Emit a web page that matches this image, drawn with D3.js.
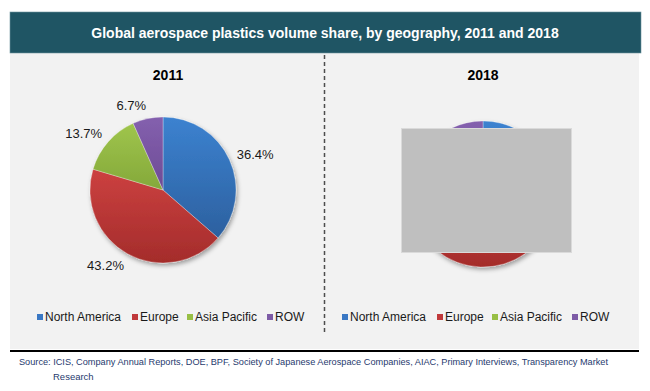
<!DOCTYPE html>
<html>
<head>
<meta charset="utf-8">
<script src="https://cdn.jsdelivr.net/npm/d3@7"></script>
<style>
  html, body { margin: 0; padding: 0; background: #ffffff; }
  svg { display: block; font-family: "Liberation Sans", Arial, sans-serif; }
</style>
</head>
<body>
<svg id="chart" width="650" height="391"></svg>
<script>
// ---- Data ----
const chartTitle = "Global aerospace plastics volume share, by geography, 2011 and 2018";
const regions = ["North America", "Europe", "Asia Pacific", "ROW"];
const years = ["2011", "2018"];
const share2011 = [36.4, 43.2, 13.7, 6.7];
const share2018 = [35.0, 41.5, 16.2, 7.3]; // hidden behind the grey box in the source; estimated
const showLabels = [true, false];
const sourceLine1 = "Source: ICIS, Company Annual Reports, DOE, BPF, Society of Japanese Aerospace Companies, AIAC, Primary Interviews, Transparency Market";
const sourceLine2 = "Research";

const colorsTop = ["#3c82d0", "#cc4140", "#9fc54c", "#8460ae"];
const colorsBot = ["#2c609f", "#a42c2b", "#84a83a", "#6d4b95"];
const legendColors = ["#3a78c4", "#c0393b", "#98bf45", "#7d5ba6"];

const svg = d3.select("#chart");
const defs = svg.append("defs");

regions.forEach((r, i) => {
  const g = defs.append("linearGradient").attr("id", "g" + i)
    .attr("x1", 0).attr("y1", 0).attr("x2", 0).attr("y2", 1)
    .attr("gradientUnits", "objectBoundingBox");
  g.append("stop").attr("offset", "0%").attr("stop-color", colorsTop[i]);
  g.append("stop").attr("offset", "100%").attr("stop-color", colorsBot[i]);
});
const f = defs.append("filter").attr("id", "shadow").attr("x", "-20%").attr("y", "-20%").attr("width", "140%").attr("height", "140%");
f.append("feDropShadow").attr("dx", 1.5).attr("dy", 2.5).attr("stdDeviation", 2).attr("flood-color", "#000").attr("flood-opacity", 0.35);

// ---- Frame ----
svg.append("rect").attr("x", 10).attr("y", 53).attr("width", 629).attr("height", 296).attr("fill", "#f2f2f2");
svg.append("rect").attr("x", 10).attr("y", 12).attr("width", 631).attr("height", 41).attr("fill", "#1f5564")
  .attr("stroke", "#6f959f").attr("stroke-width", 0.6);
svg.append("text").attr("x", 325).attr("y", 33).attr("text-anchor", "middle").attr("dominant-baseline", "central")
  .attr("fill", "#ffffff").attr("font-weight", "bold").attr("font-size", 14).text(chartTitle);

svg.append("line").attr("x1", 324.5).attr("x2", 324.5).attr("y1", 55).attr("y2", 334)
  .attr("stroke", "#4d4d4d").attr("stroke-width", 1.5).attr("stroke-dasharray", "4,3");

svg.append("line").attr("x1", 10).attr("x2", 639).attr("y1", 351).attr("y2", 351)
  .attr("stroke", "#000").attr("stroke-width", 2.2);

svg.append("text").attr("x", 19).attr("y", 361).attr("dominant-baseline", "central")
  .attr("font-size", 9.5).attr("fill", "#1f3a6e")
  .attr("textLength", 589).attr("lengthAdjust", "spacingAndGlyphs").text(sourceLine1);
svg.append("text").attr("x", 53).attr("y", 376).attr("dominant-baseline", "central")
  .attr("font-size", 9.5).attr("fill", "#1f3a6e").text(sourceLine2);

// ---- Pies ----
const panels = [
  { cx: 163, cy: 190, data: share2011, titleX: 168 },
  { cx: 483, cy: 194, data: share2018, titleX: 483 }
];
const R = 73;
const pie = d3.pie().sort(null).value(d => d);
const arc = d3.arc().innerRadius(0).outerRadius(R);

panels.forEach((p, pi) => {
  svg.append("text").attr("x", p.titleX).attr("y", 75).attr("text-anchor", "middle").attr("dominant-baseline", "central")
    .attr("font-weight", "bold").attr("font-size", 14).attr("fill", "#000").text(years[pi]);

  const g = svg.append("g").attr("transform", `translate(${p.cx},${p.cy})`);
  const arcs = pie(p.data);
  const sl = g.append("g").attr("filter", "url(#shadow)");
  sl.selectAll("path").data(arcs).join("path")
    .attr("d", arc)
    .attr("fill", (d, i) => `url(#g${i})`)
    .attr("stroke", "rgba(255,255,255,0.5)").attr("stroke-width", 0.6);

  if (showLabels[pi]) {
    g.selectAll("text.lbl").data(arcs).join("text").attr("class", "lbl")
      .each(function(d) {
        const a = (d.startAngle + d.endAngle) / 2;
        const x = 81 * Math.sin(a);
        const y = -86 * Math.cos(a);
        d3.select(this).attr("x", x).attr("y", y)
          .attr("text-anchor", x >= 0 ? "start" : "end");
      })
      .attr("dominant-baseline", "central").attr("font-size", 13).attr("fill", "#1a1a1a")
      .text(d => d.data.toFixed(1) + "%");
  }
});

// grey box over the 2018 pie
svg.append("rect").attr("x", 401.5).attr("y", 128.5).attr("width", 170).attr("height", 124)
  .attr("fill", "#bfbfbf").attr("stroke", "#dadada").attr("stroke-width", 1);

// ---- Legends ----
const legendStarts = [37, 342];
const itemOffsets = [0, 95, 150, 230];
legendStarts.forEach(x0 => {
  const lg = svg.append("g").attr("transform", `translate(${x0},317)`);
  const it = lg.selectAll("g").data(regions).join("g")
    .attr("transform", (d, i) => `translate(${itemOffsets[i]},0)`);
  it.append("rect").attr("x", 0).attr("y", -3).attr("width", 6).attr("height", 6)
    .attr("fill", (d, i) => legendColors[i]);
  it.append("text").attr("x", 8).attr("y", 0).attr("dominant-baseline", "central")
    .attr("font-size", 12).attr("fill", "#1a1a1a").text(d => d);
});
</script>
</body>
</html>
